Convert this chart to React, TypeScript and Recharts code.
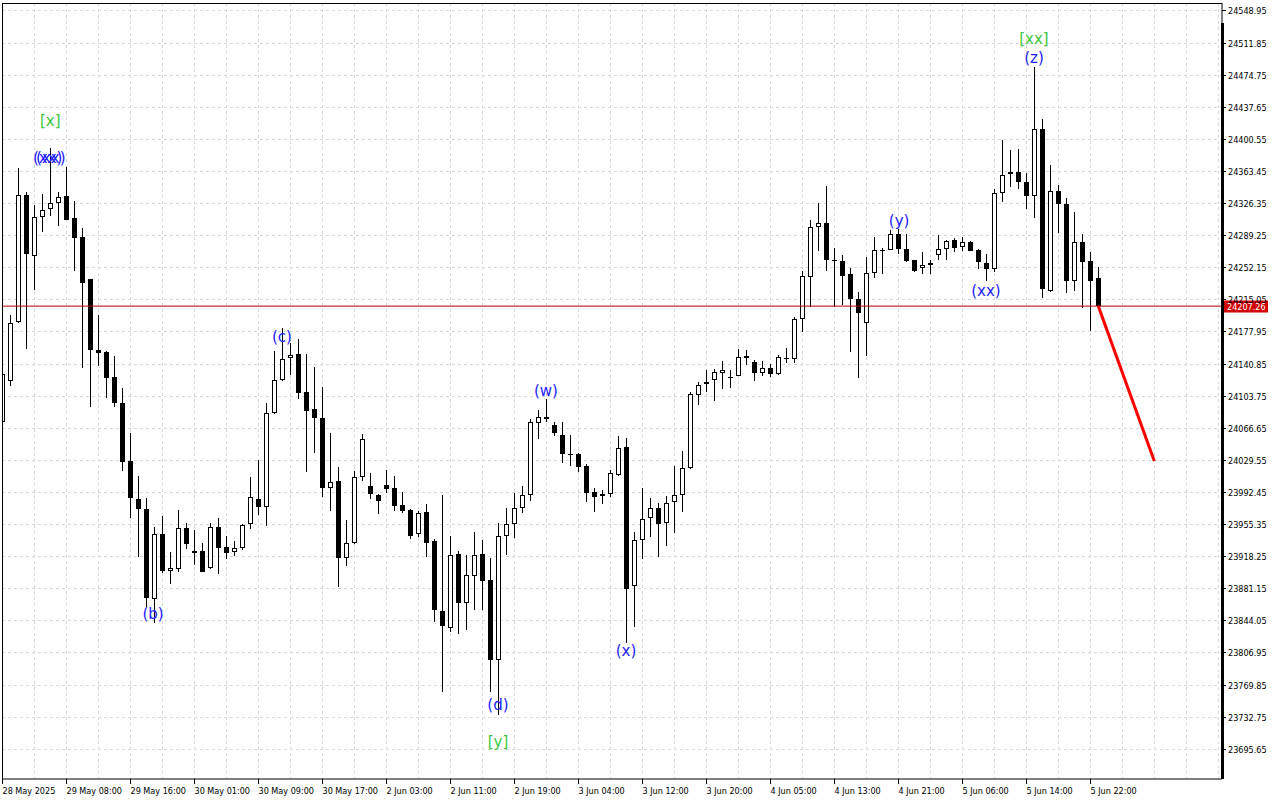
import React from 'react';
import { ComposedChart, Bar, XAxis, YAxis, CartesianGrid, ReferenceLine, ReferenceDot } from 'recharts';

// hourly bars, 28 May – 5 Jun 2025
const timeLabels = [
  '28 May 2025', '29 May 08:00', '29 May 16:00', '30 May 01:00', '30 May 09:00', '30 May 17:00',
  '2 Jun 03:00', '2 Jun 11:00', '2 Jun 19:00', '3 Jun 04:00', '3 Jun 12:00', '3 Jun 20:00',
  '4 Jun 05:00', '4 Jun 13:00', '4 Jun 21:00', '5 Jun 06:00', '5 Jun 14:00', '5 Jun 22:00',
];
const labelIdx = [0, 8, 16, 24, 32, 40, 48, 56, 64, 72, 80, 88, 96, 104, 112, 120, 128, 136];

const opens = [
  24073.7, 24121.1, 24188.6, 24335.4, 24264.9, 24309.9, 24319.2, 24326.1, 24334.2, 24309.1,
  24287.2, 24238.6, 24156.6, 24153.9, 24125.4, 24095.3, 24028.3, 23984.4, 23972.8, 23869.1,
  23943.6, 23900.8, 23903.8, 23950.8, 23921.6, 23924.3, 23905.0, 23951.6, 23929.2, 23922.8,
  23927.4, 23955.5, 23984.4, 23974.8, 24083.4, 24121.6, 24147.0, 24151.6, 24107.7, 24088.0,
  24078.0, 23996.7, 24004.8, 23915.8, 23933.2, 24009.4, 23999.4, 23988.6, 24000.2, 23996.7,
  23977.4, 23971.3, 23943.6, 23969.0, 23936.2, 23854.9, 23835.6, 23920.8, 23864.5, 23895.7,
  23920.8, 23890.7, 23797.9, 23941.2, 23955.1, 23973.6, 23988.6, 24071.9, 24079.1, 24069.9,
  24058.3, 24036.0, 24036.4, 24022.5, 23992.4, 23987.5, 23989.8, 24012.1, 24044.1, 23883.5,
  23936.6, 23962.1, 23973.6, 23956.3, 23980.5, 23988.6, 24019.8, 24104.2, 24116.9, 24121.6,
  24129.6, 24125.4, 24126.9, 24149.3, 24142.4, 24130.3, 24135.4, 24128.8, 24147.3, 24146.5,
  24192.1, 24240.6, 24298.4, 24303.4, 24260.6, 24259.4, 24244.4, 24215.2, 24187.4, 24245.2,
  24272.2, 24272.2, 24290.3, 24273.7, 24260.3, 24251.7, 24256.8, 24266.0, 24273.0, 24283.7,
  24276.0, 24281.1, 24272.2, 24256.8, 24250.5, 24337.7, 24359.6, 24362.7, 24350.4, 24334.9,
  24411.7, 24225.1, 24340.0, 24325.0, 24236.0, 24281.1, 24259.1, 24239.4,
];
const highs = [
  24131.1, 24197.0, 24366.6, 24338.8, 24323.8, 24336.5, 24389.7, 24338.8, 24367.7, 24328.8,
  24297.6, 24238.6, 24197.0, 24155.8, 24149.6, 24113.0, 24060.3, 24010.6, 23985.2, 23952.0,
  23964.4, 23922.8, 23971.6, 23956.3, 23948.5, 23933.2, 23956.3, 23962.1, 23941.6, 23935.5,
  23955.0, 24009.4, 24029.1, 24095.0, 24155.4, 24182.3, 24165.0, 24169.6, 24152.0, 24136.9,
  24113.5, 24060.3, 24021.0, 23960.1, 24016.4, 24059.1, 24014.1, 23990.5, 24017.5, 24010.9,
  23992.1, 23972.8, 23970.5, 23978.6, 23937.8, 23989.0, 23941.6, 23924.6, 23919.3, 23946.2,
  23937.0, 23916.2, 23956.3, 23973.6, 23990.9, 23999.7, 24076.8, 24087.2, 24099.9, 24073.0,
  24073.0, 24058.3, 24037.2, 24024.8, 23997.1, 23994.4, 24017.9, 24057.2, 24054.5, 23945.9,
  23996.7, 23985.9, 23980.1, 23987.8, 24022.5, 24039.8, 24108.4, 24119.6, 24133.5, 24134.6,
  24143.9, 24133.1, 24157.7, 24156.6, 24145.0, 24143.9, 24140.0, 24150.4, 24158.5, 24194.7,
  24247.5, 24306.8, 24326.1, 24346.1, 24274.1, 24266.4, 24251.0, 24224.0, 24263.7, 24286.8,
  24273.9, 24295.3, 24296.4, 24290.6, 24260.6, 24269.5, 24260.6, 24289.5, 24283.7, 24285.7,
  24286.8, 24282.5, 24272.8, 24267.2, 24342.3, 24399.3, 24387.7, 24388.5, 24360.8, 24484.0,
  24423.2, 24370.1, 24346.9, 24331.9, 24315.7, 24290.3, 24269.5, 24252.9,
];
const lows = [
  24073.4, 24115.0, 24187.8, 24157.4, 24226.3, 24293.3, 24311.8, 24300.2, 24306.8, 24248.2,
  24136.1, 24091.0, 24138.4, 24101.4, 24091.0, 24017.1, 23962.7, 23917.0, 23859.9, 23841.4,
  23898.5, 23886.5, 23900.3, 23926.2, 23908.4, 23900.0, 23903.8, 23898.0, 23915.4, 23918.8,
  23925.8, 23950.0, 23966.2, 23953.5, 24082.6, 24120.7, 24127.3, 24099.6, 24015.0, 24037.2,
  23986.3, 23970.8, 23883.0, 23907.3, 23932.7, 24005.5, 23984.0, 23966.7, 23990.9, 23970.8,
  23967.8, 23938.5, 23940.1, 23917.7, 23842.5, 23761.6, 23831.0, 23828.0, 23833.3, 23856.4,
  23856.1, 23761.6, 23734.7, 23919.6, 23939.6, 23968.5, 23982.4, 24053.4, 24073.7, 24057.5,
  24026.3, 24022.8, 24015.9, 23980.5, 23969.7, 23978.9, 23986.3, 24011.3, 23817.6, 23836.8,
  23915.0, 23940.1, 23917.7, 23930.4, 23945.4, 23969.7, 24019.4, 24093.0, 24108.4, 24098.0,
  24111.2, 24113.0, 24126.5, 24139.2, 24121.1, 24126.9, 24125.7, 24127.7, 24141.9, 24141.9,
  24177.7, 24206.6, 24271.3, 24248.2, 24206.6, 24208.2, 24153.9, 24124.6, 24149.6, 24239.4,
  24244.4, 24271.6, 24267.2, 24258.6, 24247.1, 24244.4, 24244.4, 24260.6, 24260.6, 24270.2,
  24271.3, 24271.0, 24249.8, 24236.3, 24247.1, 24328.0, 24344.6, 24342.3, 24319.2, 24309.5,
  24217.0, 24224.0, 24291.5, 24222.1, 24225.1, 24204.8, 24178.9, 24207.2,
];
const closes = [
  24128.8, 24187.4, 24335.4, 24267.2, 24309.9, 24318.0, 24326.1, 24333.1, 24307.2, 24286.4,
  24234.4, 24156.9, 24153.5, 24124.6, 24095.7, 24027.5, 23985.9, 23972.5, 23870.3, 23943.6,
  23901.5, 23904.3, 23950.8, 23932.0, 23923.9, 23900.3, 23951.6, 23928.1, 23921.6, 23927.4,
  23954.0, 23987.0, 23975.5, 24083.4, 24121.6, 24145.8, 24150.4, 24107.2, 24086.4, 24077.6,
  23997.4, 24004.4, 23915.8, 23933.2, 24009.4, 24053.4, 23989.8, 23981.7, 23995.6, 23976.6,
  23970.8, 23941.9, 23967.8, 23933.9, 23856.4, 23837.2, 23919.3, 23864.5, 23896.9, 23919.3,
  23889.9, 23798.6, 23941.2, 23955.1, 23973.6, 23988.6, 24073.0, 24078.8, 24077.2, 24060.3,
  24036.7, 24035.2, 24021.0, 23991.6, 23987.0, 23990.1, 24014.1, 24043.0, 23880.7, 23936.6,
  23960.9, 23973.6, 23955.1, 23979.4, 23988.6, 24019.8, 24105.4, 24115.8, 24119.9, 24130.8,
  24133.1, 24123.9, 24148.1, 24147.7, 24130.3, 24135.4, 24129.2, 24148.1, 24146.8, 24192.1,
  24241.8, 24298.4, 24303.4, 24260.3, 24259.8, 24242.5, 24215.2, 24199.7, 24245.2, 24272.2,
  24271.6, 24290.3, 24273.0, 24259.8, 24248.2, 24255.2, 24254.5, 24273.0, 24282.5, 24274.8,
  24281.1, 24271.3, 24257.9, 24250.5, 24337.7, 24358.5, 24362.7, 24351.1, 24334.9, 24411.7,
  24226.7, 24340.0, 24325.0, 24236.7, 24281.1, 24258.6, 24236.0, 24207.26,
];

const priceTicks = [
  24548.95, 24511.85, 24474.75, 24437.65, 24400.55, 24363.45, 24326.35, 24289.25,
  24252.15, 24215.05, 24177.95, 24140.85, 24103.75, 24066.65, 24029.55, 23992.45,
  23955.35, 23918.25, 23881.15, 23844.05, 23806.95, 23769.85, 23732.75, 23695.65,
];
const lastPrice = 24207.26;

// projected move
const forecastIdx = [137, 144];
const forecastPrice = [24207.26, 24028.3];

// wave marks
const waveText = ['[x]', '(xx)', '(xx)', '(b)', '(c)', '(d)', '[y]', '(w)', '(x)', '(y)', '(xx)', '[xx]', '(z)'];
const waveIdx = [6, 5.675, 6.06, 18.84, 34.96, 61.96, 61.96, 67.96, 77.96, 112.1, 122.96, 128.96, 128.96];
const wavePrice = [24421.3, 24378.5, 24378.5, 23851.4, 24171.6, 23746.3, 23703.5, 24109.2, 23808.7, 24305.7, 24224.8, 24516.0, 24494.1];

const X_MIN = -0.0375;
const X_MAX = 152.4625;
const Y_MIN = 23660.7;
const Y_MAX = 24557.6;

const axisFont = "'DejaVu Sans Condensed', 'Liberation Sans', sans-serif";

const data = opens.map((o, i) => ({ i, o, h: highs[i], l: lows[i], c: closes[i] }));

const Candle = (props: any) => {
  const { x, y, width, height, payload } = props;
  const { o, h, l, c } = payload;
  const yHi = Math.min(y, y + height);
  const yLo = Math.max(y, y + height);
  const k = h > l ? (yLo - yHi) / (h - l) : 0;
  const cx = Math.round(x + width / 2);
  const yo = yHi + (h - o) * k;
  const yc = yHi + (h - c) * k;
  const top = Math.round(Math.min(yo, yc));
  const bot = Math.round(Math.max(yo, yc));
  const up = c >= o;
  return (
    <g>
      <line x1={cx + 0.5} x2={cx + 0.5} y1={Math.round(yHi)} y2={Math.round(yLo)} stroke="#000" strokeWidth={1} />
      {up ? (
        <rect x={cx - 1.5} y={top + 0.5} width={4} height={Math.max(bot - top - 1, 0)} fill="#fff" stroke="#000" strokeWidth={1} />
      ) : (
        <rect x={cx - 2} y={top} width={5} height={Math.max(bot - top, 1)} fill="#000" />
      )}
    </g>
  );
};

const XTick = ({ x, y, payload }: any) => {
  const j = labelIdx.indexOf(payload.value);
  const px = Math.round(x) + 0.5;
  return (
    <g>
      <line x1={px} x2={px} y1={y} y2={y + 5} stroke="#000" />
      <text x={px} y={y + 12} dominantBaseline="central" textAnchor="start" fontSize={9} fontFamily={axisFont} fill="#000">
        {timeLabels[j]}
      </text>
    </g>
  );
};

const YTick = ({ x, y, payload }: any) => {
  const py = Math.round(y) + 0.5;
  return (
    <g>
      <line x1={x} x2={x + 4} y1={py} y2={py} stroke="#000" />
      <text x={x + 6} y={py} dominantBaseline="central" fontSize={9} fontFamily={axisFont} fill="#000">
        {payload.value.toFixed(2)}
      </text>
    </g>
  );
};

const PriceTag = ({ viewBox }: any) => {
  const { x, y, width } = viewBox;
  const left = x + width + 2;
  return (
    <g>
      <rect x={left} y={Math.round(y) - 5.5} width={44} height={12} fill="#d00000" />
      <text x={left + 3} y={Math.round(y) + 0.5} dominantBaseline="central" fontSize={9} fontFamily={axisFont} fill="#fff">
        {lastPrice.toFixed(2)}
      </text>
    </g>
  );
};

const WaveMark = (text: string) => (p: any) => (
  <text
    x={p.cx}
    y={p.cy}
    textAnchor="middle"
    dominantBaseline="central"
    fontSize={15}
    fontFamily="'DejaVu Sans', sans-serif"
    fill={text.startsWith('[') ? '#3cc83c' : '#2222ff'}
  >
    {text}
  </text>
);

const gridX = (props: any) => {
  const left = props?.offset?.left ?? 2;
  const w = props?.offset?.width ?? 1220;
  const out: number[] = [];
  for (let v = 0; v < X_MAX; v += 4) out.push(Math.round(left + ((v - X_MIN) / (X_MAX - X_MIN)) * w) + 0.5);
  return out;
};

const gridY = (props: any) => {
  const top = props?.offset?.top ?? 3;
  const h = props?.offset?.height ?? 776;
  return priceTicks.map(p => Math.round(top + ((Y_MAX - p) / (Y_MAX - Y_MIN)) * h) + 0.5);
};

export default function App() {
  return (
    <div style={{ position: 'absolute', left: 0, top: 0, width: 1280, height: 800, background: '#fff' }}>
      <ComposedChart width={1280} height={800} data={data} margin={{ top: 3, right: 0, left: 2, bottom: 0 }}>
        <CartesianGrid
          stroke="#d8d8d8"
          strokeDasharray="3 3"
          verticalCoordinatesGenerator={gridX}
          horizontalCoordinatesGenerator={gridY}
        />
        <XAxis
          type="number"
          dataKey="i"
          domain={[X_MIN, X_MAX]}
          allowDataOverflow
          ticks={labelIdx}
          interval={0}
          height={21}
          tickSize={0}
          tickMargin={0}
          tickLine={false}
          axisLine={{ stroke: '#000' }}
          tick={<XTick />}
        />
        <YAxis
          orientation="right"
          domain={[Y_MIN, Y_MAX]}
          allowDataOverflow
          ticks={priceTicks}
          interval={0}
          width={58}
          tickSize={0}
          tickMargin={0}
          tickLine={false}
          axisLine={{ stroke: '#000' }}
          tick={<YTick />}
        />
        <Bar dataKey={(d: any) => [d.l, d.h]} barSize={5} shape={Candle} isAnimationActive={false} />
        <ReferenceLine y={lastPrice} stroke="#b00000" strokeWidth={1} label={<PriceTag />} />
        <ReferenceLine
          segment={[
            { x: forecastIdx[0], y: forecastPrice[0] },
            { x: forecastIdx[1], y: forecastPrice[1] },
          ]}
          stroke="#ff0000"
          strokeWidth={3}
        />
        {waveText.map((t, j) => (
          <ReferenceDot key={j} x={waveIdx[j]} y={wavePrice[j]} r={0} shape={WaveMark(t)} />
        ))}
      </ComposedChart>
      <div style={{ position: 'absolute', left: 2, top: 3, width: 1220, height: 776, borderTop: '1px solid #000', borderLeft: '1px solid #000', boxSizing: 'border-box', pointerEvents: 'none' }} />
      <div style={{ position: 'absolute', left: 1221, top: 23, width: 3, height: 756, background: '#000', pointerEvents: 'none' }} />
    </div>
  );
}
